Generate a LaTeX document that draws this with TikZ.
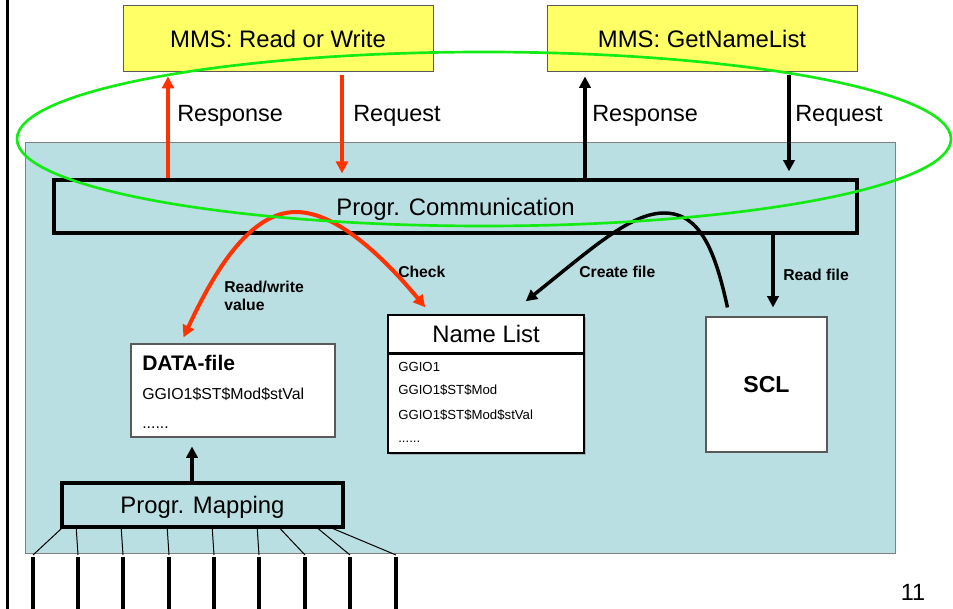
\documentclass[tikz,border=0pt]{standalone}
\usepackage{fontspec}
\setmainfont{Liberation Sans}
\usetikzlibrary{arrows.meta,calc,shadows}
\definecolor{tealbg}{RGB}{185,223,226}
\definecolor{yel}{RGB}{255,255,102}
\definecolor{redc}{RGB}{255,51,0}
\definecolor{greenc}{RGB}{20,235,20}
\definecolor{bord}{RGB}{90,90,90}
\begin{document}
\begin{tikzpicture}[x=0.75pt,y=-0.75pt,
  bigtxt/.style={font=\fontsize{17.9}{21}\selectfont, text height=12.8pt, text depth=0pt},
  mmsbox/.style={draw=bord, line width=0.75pt, fill=yel, minimum width=232.5pt, minimum height=49.5pt, inner sep=0pt, bigtxt},
  thickbox/.style={draw=black, line width=2.4pt, fill=tealbg, inner sep=0pt, bigtxt},
  whitebox/.style={draw=bord, line width=0.8pt, fill=white, inner sep=0pt},
  redarr/.style={draw=redc, line width=3pt, -{Triangle[width=9pt,length=9pt]}},
  blkarr/.style={draw=black, line width=2.6pt, -{Triangle[width=8.5pt,length=8.5pt]}},
  lbl/.style={font=\fontsize{17.6}{20}\selectfont, text height=12.6pt, text depth=0pt, anchor=west, inner sep=0pt},
  smlbl/.style={font=\bfseries\fontsize{11.8}{14.2}\selectfont, text height=8.45pt, text depth=0pt, anchor=west, inner sep=0pt},
  listtxt/.style={font=\fontsize{9.9}{12}\selectfont, anchor=base west, inner sep=0pt},
  datatxt/.style={font=\fontsize{11.9}{14}\selectfont, anchor=base west, inner sep=0pt}
]
\useasboundingbox (0,0) rectangle (953,609);

% left rule
\draw[line width=2.25pt] (7,0) -- (7,609);

% background panel
\filldraw[fill=tealbg, draw=gray, line width=0.75pt] (25,143) rectangle (895,553);

% MMS boxes
\node[mmsbox] (rw) at (278,39) {MMS: Read or Write};
\node[mmsbox] (gnl) at (702,39) {MMS: GetNameList};

% communication box
\node[thickbox, minimum width=602.25pt, minimum height=39.75pt] (comm) at (455.5,206.5) {Progr. Communication};

% mapping box
\node[thickbox, line width=2.6pt, minimum width=210.75pt, minimum height=33pt] (map) at (202.5,505) {Progr. Mapping};

% DATA-file
\node[whitebox, minimum width=153pt, minimum height=69.75pt] (data) at (233,390.5) {};
\node[anchor=base west, inner sep=0pt, font=\bfseries\fontsize{15.8}{18}\selectfont] (dtitle) at (142,370.5) {DATA-file};
\node[datatxt] (dl1) at (142,400) {GGIO1\$ST\$Mod\$stVal};
\node[datatxt] (dl2) at (142,428) {......};

% Name List
\node[draw=black, line width=1.1pt, fill=white, inner sep=0pt, minimum width=147pt, minimum height=75pt,
      drop shadow={shadow xshift=1.2pt, shadow yshift=-1.2pt, fill=black!45}] (nlbody) at (486,403) {};
\node[draw=black, line width=1.1pt, fill=white, inner sep=0pt, minimum width=147pt, minimum height=28.5pt, bigtxt,
      drop shadow={shadow xshift=1.2pt, shadow yshift=-1.2pt, fill=black!45}] (nlhead) at (486,334) {Name List};
\draw[line width=1.6pt] (nlhead.south west) -- (nlhead.south east);
\node[listtxt] (n1) at (398,371.7) {GGIO1};
\node[listtxt] (n2) at (398,394.7) {GGIO1\$ST\$Mod};
\node[listtxt] (n3) at (398,419.7) {GGIO1\$ST\$Mod\$stVal};
\node[listtxt] (n4) at (398,442) {......};

% SCL
\node[whitebox, minimum width=90.75pt, minimum height=101.25pt,
      font=\bfseries\fontsize{17.3}{20}\selectfont, text height=12.4pt, text depth=0pt] (scl) at (766.5,384.5) {SCL};

% arrow x positions
\coordinate (xa) at (168,0);
\coordinate (xb) at (342,0);
\coordinate (xc) at (585,0);
\coordinate (xd) at (789,0);
\coordinate (xe) at (773,0);
\coordinate (xf) at (192,0);

\draw[redarr] (comm.north -| xa) -- ($(rw.south -| xa)+(0,4)$);
\draw[redarr] ($(rw.south -| xb)+(0,3)$) -- ($(comm.north -| xb)+(0,-5)$);
\draw[blkarr] (comm.north -| xc) -- ($(gnl.south -| xc)+(0,4)$);
\draw[blkarr] ($(gnl.south -| xd)+(0,3)$) -- ($(comm.north -| xd)+(0,-7)$);
\draw[blkarr] (comm.south -| xe) -- ($(scl.north -| xe)+(0,-9)$);
\draw[blkarr] (map.north -| xf) -- ($(data.south -| xf)+(0,9)$);

% labels
\node[lbl] (lresp1) at (177,113) {Response};
\node[lbl] (lreq1) at (353,113) {Request};
\node[lbl] (lresp2) at (592,113) {Response};
\node[lbl] (lreq2) at (795,113) {Request};

\node[font=\bfseries\fontsize{11.8}{14}\selectfont, align=left, anchor=west, inner sep=0pt] (lrw) at (224,296) {Read/write\\value};
\node[smlbl] (lcheck) at (398,272) {Check};
\node[smlbl] (lcreate) at (579,272) {Create file};
\node[smlbl] (lread) at (783,274.5) {Read file};

% curves
\draw[redc, line width=3pt, {Triangle[width=9pt,length=9pt]}-{Triangle[width=9pt,length=9pt]}]
  ($(data.north west)+(53,-6)$) .. controls (215,270) and (250,212) .. (296,212)
  .. controls (340,212) and (390,265) .. ($(nlhead.north west)+(38,-7)$);
\draw[black, line width=2.6pt, -{Triangle[width=8.5pt,length=8.5pt]}]
  ($(scl.north west)+(22,-9)$) .. controls (715,250) and (700,213) .. (664,213)
  .. controls (630,213) and (590,250) .. ($(nlhead.north east)+(-59,-13)$);

% input lines
\foreach \a/\b in {1/33,16/78,61/123,107/169,152/214,197/259,220/305,258/350,273/396} {
  \draw[line width=0.75pt] ($(map.south west)+(\a,0)$) -- (\b,555);
  \draw[line width=3pt] (\b,557) -- (\b,609);
}

% page number
\node[font=\fontsize{17.6}{20}\selectfont, inner sep=0pt] (pg) at (913,592) {11};

% green ellipse
\draw[greenc, line width=2pt] (484,139) ellipse [x radius=350.25pt, y radius=65.25pt];
\end{tikzpicture}
\end{document}
